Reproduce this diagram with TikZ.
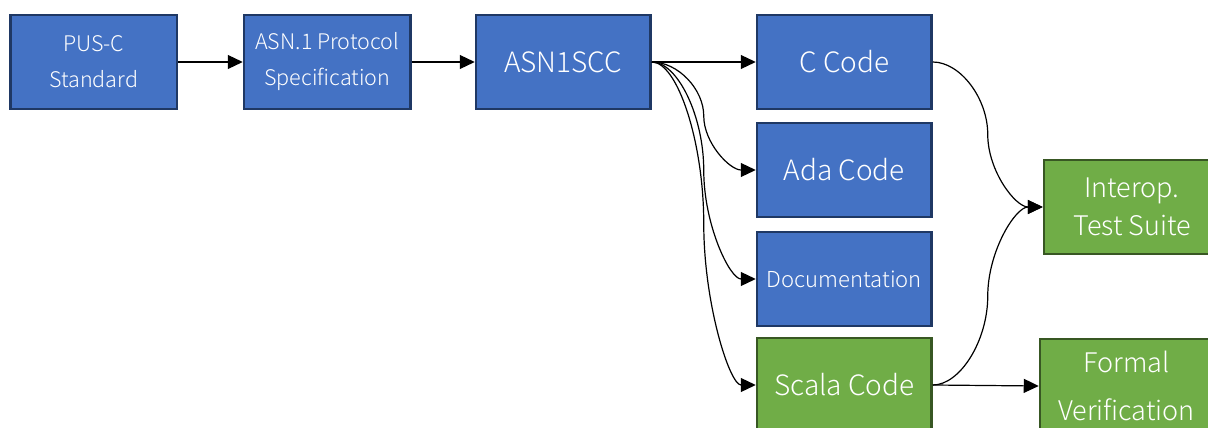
\documentclass[tikz,border=0pt]{standalone}
\usepackage{fontspec}
\setmainfont{Noto Sans CJK JP}[UprightFont=* Light]
\usetikzlibrary{arrows.meta,calc}
\definecolor{boxblue}{HTML}{4472C4}
\definecolor{edgeblue}{HTML}{1F3864}
\definecolor{boxgreen}{HTML}{70AD47}
\definecolor{edgegreen}{HTML}{385723}
\tikzset{
  block/.style={rectangle, line width=2.5pt, inner sep=0pt, text=white,
    align=center, minimum height=94pt},
  blueblock/.style={block, fill=boxblue, draw=edgeblue},
  greenblock/.style={block, fill=boxgreen, draw=edgegreen},
  smalltext/.style={font=\fontsize{21.5}{36}\selectfont},
  bigtext/.style={font=\fontsize{28}{36}\selectfont},
  doctext/.style={font=\fontsize{22}{30}\selectfont},
  flow/.style={line width=1.2pt, -{Triangle[length=15pt,width=14pt]}},
  % S-shaped connector: leaves and enters horizontally, vertical at mid-x
  sbend/.style={to path={
    let \p1=(\tikztostart), \p2=(\tikztotarget),
        \p3=($(\tikztostart)!0.5!(\tikztotarget)$) in
    .. controls ({(\x1+\x3)/2},\y1) and (\x3,{(3*\y1+\y2)/4}) .. (\x3,\y3)
    .. controls (\x3,{(\y1+3*\y2)/4}) and ({(\x3+\x2)/2},\y2) .. (\tikztotarget)}}
}
\begin{document}
\begin{tikzpicture}[x=1pt,y=-1pt]
  \path[use as bounding box, fill=white] (0,0) rectangle (1208,428);
  \clip (0,0) rectangle (1208,428);

  % pipeline blocks
  \node[blueblock, smalltext, minimum width=166.5pt] (pus)  at (93.75,62)  {PUS-C\\Standard};
  \node[blueblock, smalltext, minimum width=166.5pt] (spec) at (327.25,62) {ASN.1 Protocol\\Specification};
  \node[blueblock, bigtext,   minimum width=174.5pt] (asn)  at (563.25,62) {ASN1SCC};

  % generated outputs
  \node[blueblock, bigtext, minimum width=174.5pt] (ccode) at (844.25,62)  {C Code};
  \node[blueblock, bigtext, minimum width=174.5pt] (ada)   at (844.25,170) {Ada Code};
  \node[blueblock, doctext, minimum width=174.5pt] (doc)   at (844.25,279) {Documentation};
  \node[greenblock, bigtext, minimum width=174.5pt] (scala) at (844.25,385) {Scala Code};

  % downstream activities
  \node[greenblock, font=\fontsize{27}{37.6}\selectfont, minimum width=176pt]
    (interop) at (1132,207) {Interop.\\Test Suite};
  \node[greenblock, font=\fontsize{27}{48}\selectfont, minimum width=173pt]
    (formal) at (1126.5,386) {Formal\\Verification};

  % connectors
  \draw[flow] (pus.east)  -- (spec.west);
  \draw[flow] (spec.east) -- (asn.west);
  \draw[flow] (asn.east)  -- (ccode.west);
  \draw[flow] (asn.east)  to[sbend] (ada.west);
  \draw[flow] (asn.east)  to[sbend] (doc.west);
  \draw[flow] (asn.east)  to[sbend] (scala.west);
  \draw[flow] (ccode.east) to[sbend] (interop.west);
  \draw[flow] (scala.east) to[sbend] (interop.west);
  \draw[flow] (scala.east) -- (formal.west);
\end{tikzpicture}
\end{document}
